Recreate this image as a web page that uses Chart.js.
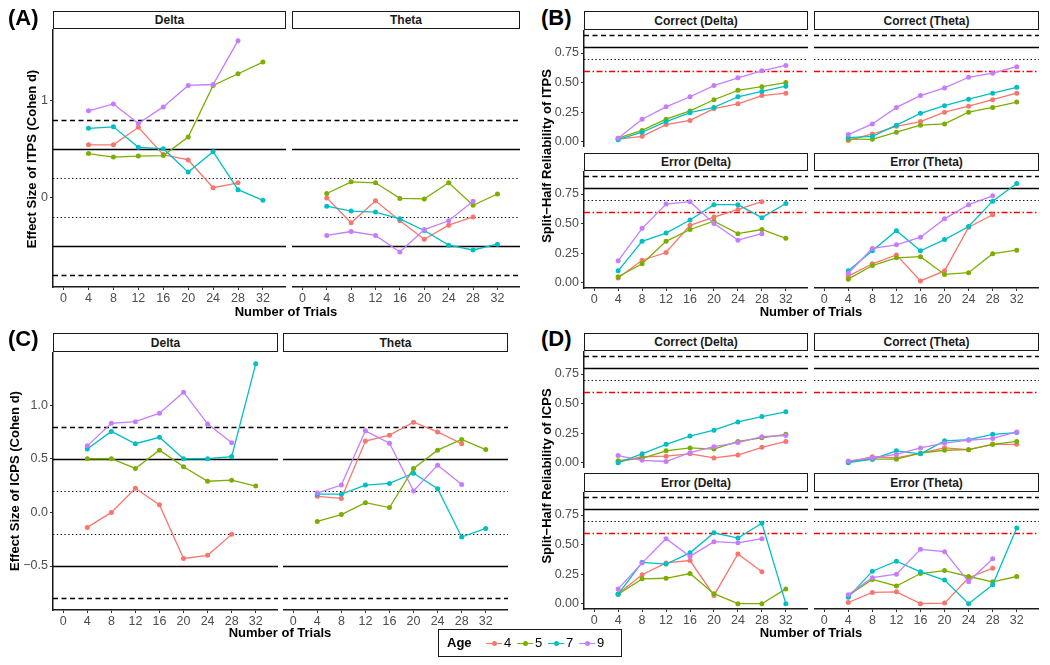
<!DOCTYPE html>
<html>
<head>
<meta charset="utf-8">
<script src="https://cdn.jsdelivr.net/npm/chart.js@4.4.1/dist/chart.umd.min.js"></script>
<style>
body { margin: 0; width: 1050px; height: 665px; background: #fff; position: relative; overflow: hidden; font-family: "Liberation Sans", Arial, sans-serif; }
canvas { position: absolute; }
.strip { position: absolute; box-sizing: border-box; border: 1.3px solid #1a1a1a; background: #fff; color: #1a1a1a; font-weight: bold; font-size: 12px; display: flex; align-items: center; justify-content: center; }
.tag { position: absolute; font-weight: bold; font-size: 22px; line-height: 22px; }
.xt { position: absolute; font-weight: bold; font-size: 13px; line-height: 16px; transform: translateX(-50%); white-space: nowrap; }
.yt { position: absolute; font-weight: bold; font-size: 13px; line-height: 16px; transform: translate(-50%, -50%) rotate(-90deg); white-space: nowrap; }
.legend { position: absolute; box-sizing: border-box; border: 1.3px solid #1a1a1a; background: #fff; }
.lab { position: absolute; font-size: 13px; line-height: 16px; }
</style>
</head>
<body>
<script>
// trials on the x axis, ages in the legend
var trials = [4, 8, 12, 16, 20, 24, 28, 32];
var xTicks = [0, 4, 8, 12, 16, 20, 24, 28, 32];
var ages = ['4', '5', '7', '9'];
var ageColors = ['#F8766D', '#7CAE00', '#00BFC4', '#C77CFF'];

// (A) effect size of ITPS, rows = age 4, 5, 7, 9
var itpsEffDelta = [
  [0.54, 0.54, 0.72, 0.44, 0.385, 0.10, 0.15, null],
  [0.45, 0.415, 0.425, 0.43, 0.62, 1.15, 1.27, 1.39],
  [0.71, 0.725, 0.515, 0.50, 0.26, 0.47, 0.08, -0.03],
  [0.89, 0.96, 0.76, 0.93, 1.15, 1.16, 1.61, null]
];
var itpsEffTheta = [
  [-0.005, -0.26, -0.035, -0.24, -0.43, -0.285, -0.20, null],
  [0.04, 0.16, 0.15, -0.01, -0.015, 0.15, -0.08, 0.035],
  [-0.09, -0.14, -0.15, -0.22, -0.34, -0.49, -0.54, -0.48],
  [-0.39, -0.35, -0.39, -0.56, -0.33, -0.24, -0.04, null]
];

// (C) effect size of ICPS
var icpsEffDelta = [
  [-0.14, 0.0, 0.225, 0.07, -0.43, -0.40, -0.205, null],
  [0.50, 0.50, 0.41, 0.58, 0.425, 0.29, 0.30, 0.245],
  [0.59, 0.755, 0.64, 0.70, 0.50, 0.50, 0.52, 1.385],
  [0.62, 0.83, 0.845, 0.925, 1.12, 0.825, 0.65, null]
];
var icpsEffTheta = [
  [0.15, 0.13, 0.665, 0.72, 0.84, 0.75, 0.64, null],
  [-0.085, -0.02, 0.09, 0.045, 0.41, 0.58, 0.68, 0.585],
  [0.17, 0.17, 0.255, 0.27, 0.365, 0.22, -0.23, -0.15],
  [0.18, 0.255, 0.76, 0.645, 0.20, 0.44, 0.26, null]
];

// (B) split-half reliability of ITPS
var itpsRelCorrectDelta = [
  [0.022, 0.045, 0.145, 0.18, 0.28, 0.32, 0.39, 0.41],
  [0.03, 0.095, 0.19, 0.26, 0.355, 0.435, 0.465, 0.50],
  [0.017, 0.08, 0.17, 0.245, 0.29, 0.38, 0.425, 0.47],
  [0.03, 0.19, 0.295, 0.38, 0.475, 0.54, 0.60, 0.645]
];
var itpsRelCorrectTheta = [
  [0.01, 0.065, 0.13, 0.17, 0.25, 0.30, 0.355, 0.41],
  [0.022, 0.02, 0.08, 0.14, 0.15, 0.25, 0.29, 0.335],
  [0.035, 0.045, 0.14, 0.24, 0.305, 0.36, 0.41, 0.46],
  [0.06, 0.15, 0.29, 0.39, 0.455, 0.545, 0.58, 0.635]
];
var itpsRelErrorDelta = [
  [0.04, 0.19, 0.255, 0.485, 0.555, 0.62, 0.685, null],
  [0.05, 0.16, 0.35, 0.45, 0.52, 0.415, 0.45, 0.375],
  [0.10, 0.35, 0.42, 0.53, 0.66, 0.66, 0.55, 0.67],
  [0.185, 0.46, 0.665, 0.685, 0.50, 0.36, 0.415, null]
];
var itpsRelErrorTheta = [
  [0.055, 0.16, 0.235, 0.015, 0.10, 0.47, 0.575, null],
  [0.03, 0.145, 0.21, 0.22, 0.07, 0.085, 0.245, 0.275],
  [0.10, 0.27, 0.44, 0.27, 0.365, 0.475, 0.69, 0.84],
  [0.08, 0.29, 0.32, 0.385, 0.54, 0.66, 0.735, null]
];

// (D) split-half reliability of ICPS
var icpsRelCorrectDelta = [
  [0.005, 0.05, 0.055, 0.075, 0.04, 0.065, 0.13, 0.18],
  [0.017, 0.037, 0.10, 0.125, 0.115, 0.18, 0.21, 0.24],
  [0.0, 0.075, 0.155, 0.225, 0.275, 0.345, 0.39, 0.43],
  [0.06, 0.02, 0.01, 0.085, 0.135, 0.17, 0.22, 0.23]
];
var icpsRelCorrectTheta = [
  [0.005, 0.05, 0.04, 0.08, 0.125, 0.11, 0.155, 0.155],
  [0.01, 0.03, 0.03, 0.08, 0.105, 0.11, 0.155, 0.18],
  [0.0, 0.03, 0.10, 0.075, 0.185, 0.195, 0.24, 0.255],
  [0.015, 0.04, 0.07, 0.125, 0.165, 0.19, 0.205, 0.26]
];
var icpsRelErrorDelta = [
  [0.085, 0.245, 0.345, 0.365, 0.07, 0.42, 0.27, null],
  [0.08, 0.21, 0.215, 0.255, 0.085, 0.0, 0.0, 0.125],
  [0.08, 0.35, 0.335, 0.43, 0.60, 0.555, 0.68, 0.0],
  [0.125, 0.345, 0.55, 0.40, 0.525, 0.515, 0.55, null]
];
var icpsRelErrorTheta = [
  [0.01, 0.095, 0.10, 0.0, 0.005, 0.22, 0.30, null],
  [0.07, 0.205, 0.15, 0.255, 0.28, 0.23, 0.185, 0.23],
  [0.055, 0.275, 0.36, 0.27, 0.20, 0.0, 0.16, 0.64],
  [0.075, 0.22, 0.25, 0.46, 0.44, 0.185, 0.38, null]
];

// reference lines (cut-offs)
var effRefValues = [0.8, 0.5, 0.2, -0.2, -0.5, -0.8];
var effRefTypes = ['dashed', 'solid', 'dotted', 'dotted', 'solid', 'dashed'];
var relRefValues = [0.9, 0.8, 0.7, 0.6];
var relRefTypes = ['dashed', 'solid', 'dotted', 'dotdash'];

// y tick labels
var itpsEffTicks = [0, 1];
var itpsEffLabels = ['0', '1'];
var icpsEffTicks = [-0.5, 0, 0.5, 1];
var icpsEffLabels = ['\u22120.5', '0.0', '0.5', '1.0'];
var relTicks = [0, 0.25, 0.5, 0.75];
var relLabels = ['0.00', '0.25', '0.50', '0.75'];

Chart.defaults.font.family = '"Liberation Sans", Arial, sans-serif';

var lineStyles = {
  dashed: { dash: [5, 3.5], color: '#000', width: 1.4 },
  solid: { dash: [], color: '#000', width: 1.5 },
  dotted: { dash: [1.4, 2.4], color: '#111', width: 1.2 },
  dotdash: { dash: [6, 2.5, 1.5, 2.5], color: '#ff0000', width: 1.3 }
};

var refLinePlugin = {
  id: 'refLines',
  beforeDatasetsDraw: function (chart, args, opts) {
    var ctx = chart.ctx, area = chart.chartArea, y = chart.scales.y;
    opts.values.forEach(function (v, i) {
      var st = lineStyles[opts.types[i]];
      var py = Math.round(y.getPixelForValue(v)) + 0.5;
      ctx.save();
      ctx.beginPath();
      ctx.strokeStyle = st.color;
      ctx.lineWidth = st.width;
      ctx.setLineDash(st.dash);
      ctx.moveTo(area.left, py);
      ctx.lineTo(area.right, py);
      ctx.stroke();
      ctx.restore();
    });
  }
};

function addDiv(cls, text, css) {
  var d = document.createElement('div');
  d.className = cls;
  d.textContent = text;
  d.style.cssText = css;
  document.body.appendChild(d);
  return d;
}

function addFacet(p) {
  var yW = p.yAxis ? 40 : 0;
  var xH = p.xAxis ? 22 : 0;
  var w = p.x1 - p.x0 + yW, h = p.y1 - p.y0 + xH;
  var cv = document.createElement('canvas');
  cv.width = w; cv.height = h;
  cv.style.left = (p.x0 - yW) + 'px';
  cv.style.top = p.y0 + 'px';
  cv.style.width = w + 'px';
  cv.style.height = h + 'px';
  document.body.appendChild(cv);

  addDiv('strip', p.title, 'left:' + p.x0 + 'px;top:' + p.s0 + 'px;width:' + (p.x1 - p.x0) + 'px;height:' + (p.y0 - p.s0) + 'px;');

  var tickFont = { size: 12.5 };
  new Chart(cv, {
    type: 'line',
    data: {
      datasets: p.values.map(function (vals, i) {
        return {
          label: ages[i],
          data: trials.map(function (t, j) { return { x: t, y: vals[j] }; })
                      .filter(function (d) { return d.y !== null; }),
          borderColor: ageColors[i],
          backgroundColor: ageColors[i],
          borderWidth: 1.3,
          pointRadius: 2.5,
          pointBorderWidth: 0,
          tension: 0,
          order: 3 - i
        };
      })
    },
    options: {
      responsive: false,
      animation: false,
      events: [],
      layout: { padding: 0, autoPadding: false },
      plugins: {
        legend: { display: false },
        tooltip: { enabled: false },
        refLines: { values: p.refValues, types: p.refTypes }
      },
      scales: {
        x: {
          type: 'linear',
          min: -1.7,
          max: 35.7,
          display: p.xAxis,
          afterBuildTicks: function (s) { s.ticks = xTicks.map(function (v) { return { value: v }; }); },
          afterFit: function (s) { s.height = xH; s.paddingLeft = 0; s.paddingRight = 0; },
          grid: { display: true, drawOnChartArea: false, drawTicks: true, tickLength: 3, color: '#333', lineWidth: 1 },
          border: { display: true, color: '#1a1a1a', width: 1.5 },
          ticks: { color: '#4d4d4d', font: tickFont, padding: 1, maxRotation: 0, autoSkip: false }
        },
        y: {
          type: 'linear',
          min: p.yMin,
          max: p.yMax,
          display: p.yAxis,
          afterBuildTicks: function (s) { s.ticks = p.ticks.map(function (v) { return { value: v }; }); },
          afterFit: function (s) { s.width = yW; s.paddingTop = 0; s.paddingBottom = 0; },
          grid: { display: true, drawOnChartArea: false, drawTicks: true, tickLength: 3, color: '#333', lineWidth: 1 },
          border: { display: true, color: '#1a1a1a', width: 1.5 },
          ticks: {
            color: '#4d4d4d', font: tickFont, padding: 2, autoSkip: false,
            callback: function (v) { var k = p.ticks.indexOf(v); return k < 0 ? '' : p.labels[k]; }
          }
        }
      }
    },
    plugins: [refLinePlugin]
  });
}

// (A)
addFacet({ title: 'Delta', x0: 53, x1: 286, s0: 11, y0: 29, y1: 287, values: itpsEffDelta, yMin: -0.92, yMax: 1.73,
  ticks: itpsEffTicks, labels: itpsEffLabels, refValues: effRefValues, refTypes: effRefTypes, yAxis: true, xAxis: true });
addFacet({ title: 'Theta', x0: 292, x1: 520, s0: 11, y0: 29, y1: 287, values: itpsEffTheta, yMin: -0.92, yMax: 1.73,
  ticks: itpsEffTicks, labels: itpsEffLabels, refValues: effRefValues, refTypes: effRefTypes, yAxis: false, xAxis: true });

// (C)
addFacet({ title: 'Delta', x0: 53, x1: 278, s0: 333, y0: 352, y1: 610, values: icpsEffDelta, yMin: -0.91, yMax: 1.495,
  ticks: icpsEffTicks, labels: icpsEffLabels, refValues: effRefValues, refTypes: effRefTypes, yAxis: true, xAxis: true });
addFacet({ title: 'Theta', x0: 283, x1: 508, s0: 333, y0: 352, y1: 610, values: icpsEffTheta, yMin: -0.91, yMax: 1.495,
  ticks: icpsEffTicks, labels: icpsEffLabels, refValues: effRefValues, refTypes: effRefTypes, yAxis: false, xAxis: true });

// (B)
var relFacets = [
  ['Correct (Delta)', 584, 808, 11, 30, 147, itpsRelCorrectDelta, true, false],
  ['Correct (Theta)', 814, 1039, 11, 30, 147, itpsRelCorrectTheta, false, false],
  ['Error (Delta)', 584, 808, 153, 171, 288, itpsRelErrorDelta, true, true],
  ['Error (Theta)', 814, 1039, 153, 171, 288, itpsRelErrorTheta, false, true],
  // (D)
  ['Correct (Delta)', 584, 808, 333, 351, 468, icpsRelCorrectDelta, true, false],
  ['Correct (Theta)', 814, 1039, 333, 351, 468, icpsRelCorrectTheta, false, false],
  ['Error (Delta)', 584, 808, 473, 492, 609, icpsRelErrorDelta, true, true],
  ['Error (Theta)', 814, 1039, 473, 492, 609, icpsRelErrorTheta, false, true]
];
relFacets.forEach(function (f) {
  addFacet({ title: f[0], x0: f[1], x1: f[2], s0: f[3], y0: f[4], y1: f[5], values: f[6], yMin: -0.045, yMax: 0.945,
    ticks: relTicks, labels: relLabels, refValues: relRefValues, refTypes: relRefTypes, yAxis: f[7], xAxis: f[8] });
});

// panel tags and axis titles
addDiv('tag', '(A)', 'left:8px;top:7px;');
addDiv('tag', '(B)', 'left:541px;top:7px;');
addDiv('tag', '(C)', 'left:8px;top:328px;');
addDiv('tag', '(D)', 'left:541px;top:328px;');

addDiv('xt', 'Number of Trials', 'left:286px;top:304px;');
addDiv('xt', 'Number of Trials', 'left:811px;top:304px;');
addDiv('xt', 'Number of Trials', 'left:280px;top:625px;');
addDiv('xt', 'Number of Trials', 'left:811px;top:625px;');

addDiv('yt', 'Effect Size of ITPS (Cohen d)', 'left:32px;top:159px;');
addDiv('yt', 'Split\u2212Half Reliability of ITPS', 'left:547px;top:156px;');
addDiv('yt', 'Effect Size of ICPS (Cohen d)', 'left:15px;top:481px;');
addDiv('yt', 'Split\u2212Half Reliability of ICPS', 'left:547px;top:476px;');

// legend
addDiv('legend', '', 'left:438px;top:629px;width:184px;height:28px;');
addDiv('lab', 'Age', 'left:447px;top:635px;font-weight:bold;');
ages.forEach(function (a, i) {
  var cx = 494 + i * 31;
  addDiv('', '', 'position:absolute;left:' + (cx - 8) + 'px;top:642.5px;width:16px;height:1.3px;background:' + ageColors[i] + ';');
  addDiv('', '', 'position:absolute;left:' + (cx - 2.5) + 'px;top:640.5px;width:5px;height:5px;border-radius:50%;background:' + ageColors[i] + ';');
  addDiv('lab', a, 'left:' + (cx + 10) + 'px;top:635px;');
});
</script>
</body>
</html>
